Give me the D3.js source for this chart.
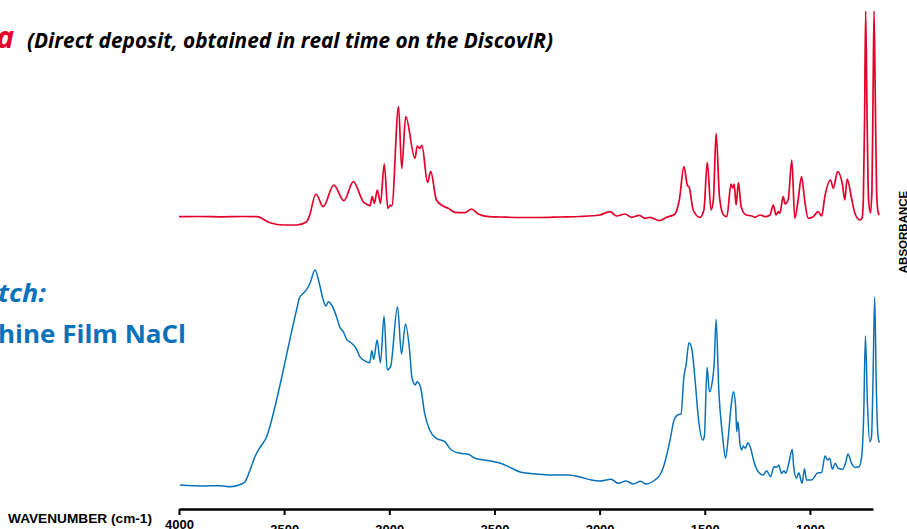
<!DOCTYPE html>
<html>
<head>
<meta charset="utf-8">
<script src="https://cdn.jsdelivr.net/npm/d3@7"></script>
<style>
  html, body { margin: 0; padding: 0; background: #fff; overflow: hidden; }
  svg { display: block; }
</style>
</head>
<body>
<svg id="chart" width="907" height="529"></svg>
<script>
// unknown spectrum (red, top) - wavenumber (cm-1) / absorbance
const unknownWavenumber = [
  4000, 3900, 3800, 3700, 3630, 3567, 3504, 3440, 3393, 3381, 3349, 3314, 3264, 3216, 3171, 3124,
  3100, 3092, 3081, 3071, 3057, 3042, 3024, 3007, 2994, 2988, 2956, 2941, 2922, 2878, 2867, 2855,
  2845, 2818, 2803, 2776, 2744, 2720, 2688, 2641, 2609, 2577, 2525, 2474, 2378, 2283, 2188, 2093,
  2000, 1951, 1919, 1880, 1848, 1811, 1784, 1760, 1716, 1681, 1642, 1621, 1599, 1583, 1574, 1555,
  1523, 1504, 1488, 1470, 1459, 1446, 1430, 1411, 1395, 1375, 1367, 1360, 1351, 1340, 1327, 1303,
  1276, 1261, 1237, 1213, 1190, 1174, 1161, 1150, 1143, 1127, 1118, 1103, 1086, 1072, 1056, 1040,
  1024, 1008, 984, 961, 944, 929, 902, 889, 868, 845, 834, 823, 802, 786, 762, 752,
  746, 740, 735, 728, 721, 712, 705, 700, 695, 689, 683, 676, 670
];
const unknownAbsorbance = [
  0.093, 0.095, 0.092, 0.095, 0.093, 0.033, 0.010, 0.010, 0.043, 0.093, 0.320, 0.193, 0.410, 0.253, 0.443, 0.243,
  0.210, 0.200, 0.293, 0.227, 0.360, 0.227, 0.620, 0.177, 0.210, 0.200, 1.195, 0.575, 1.093, 0.677, 0.800, 0.777,
  0.807, 0.437, 0.547, 0.260, 0.200, 0.177, 0.137, 0.133, 0.170, 0.120, 0.093, 0.090, 0.085, 0.085, 0.090, 0.095,
  0.110, 0.143, 0.100, 0.120, 0.087, 0.107, 0.077, 0.087, 0.053, 0.087, 0.120, 0.260, 0.593, 0.410, 0.387, 0.160,
  0.087, 0.160, 0.637, 0.160, 0.260, 0.927, 0.293, 0.110, 0.093, 0.420, 0.377, 0.420, 0.210, 0.433, 0.193, 0.110,
  0.100, 0.087, 0.110, 0.093, 0.110, 0.210, 0.110, 0.143, 0.127, 0.293, 0.220, 0.267, 0.660, 0.077, 0.260, 0.493,
  0.243, 0.077, 0.093, 0.143, 0.100, 0.293, 0.460, 0.377, 0.543, 0.410, 0.260, 0.470, 0.277, 0.127, 0.060, 0.080,
  0.260, 1.060, 2.150, 1.060, 0.260, 0.130, 0.360, 1.260, 2.150, 1.260, 0.360, 0.140, 0.110
];

// library match spectrum (blue, bottom)
const matchWavenumber = [
  3995, 3884, 3805, 3757, 3702, 3686, 3662, 3639, 3607, 3583, 3568, 3536, 3504, 3480, 3456, 3441,
  3428, 3409, 3393, 3377, 3353, 3333, 3314, 3301, 3290, 3274, 3251, 3235, 3219, 3203, 3179, 3155,
  3140, 3108, 3093, 3083, 3074, 3058, 3042, 3025, 3010, 2994, 2961, 2942, 2923, 2903, 2892, 2876,
  2868, 2852, 2832, 2808, 2776, 2736, 2705, 2664, 2624, 2592, 2525, 2474, 2420, 2378, 2300, 2230,
  2150, 2093, 2040, 2000, 1946, 1911, 1874, 1840, 1805, 1780, 1737, 1713, 1689, 1665, 1646, 1630,
  1613, 1599, 1589, 1575, 1562, 1546, 1531, 1510, 1502, 1489, 1478, 1464, 1455, 1446, 1434, 1415,
  1401, 1388, 1375, 1364, 1353, 1348, 1342, 1332, 1324, 1317, 1307, 1295, 1282, 1266, 1246, 1222,
  1206, 1187, 1171, 1158, 1148, 1135, 1123, 1115, 1099, 1084, 1077, 1064, 1053, 1037, 1026, 1016,
  993, 961, 945, 928, 917, 906, 893, 880, 866, 845, 830, 819, 802, 786, 766, 754,
  744, 736, 726, 715, 707, 700, 692, 684, 676, 669
];
const matchAbsorbance = [
  0.030, 0.020, 0.023, 0.013, 0.040, 0.063, 0.180, 0.313, 0.430, 0.513, 0.613, 0.880, 1.180, 1.413, 1.647, 1.780,
  1.897, 1.947, 1.987, 2.047, 2.180, 2.047, 1.880, 1.820, 1.863, 1.830, 1.713, 1.607, 1.563, 1.487, 1.447, 1.387,
  1.313, 1.263, 1.253, 1.373, 1.287, 1.480, 1.253, 1.720, 1.180, 1.213, 1.813, 1.340, 1.640, 1.363, 1.097, 1.030,
  1.063, 1.013, 0.747, 0.580, 0.497, 0.463, 0.380, 0.347, 0.337, 0.297, 0.273, 0.250, 0.200, 0.160, 0.140, 0.130,
  0.130, 0.110, 0.080, 0.070, 0.087, 0.047, 0.070, 0.040, 0.067, 0.040, 0.080, 0.130, 0.263, 0.480, 0.680, 0.730,
  0.740, 1.113, 1.230, 1.453, 1.397, 1.080, 0.713, 0.480, 0.513, 1.207, 0.963, 1.063, 1.247, 1.687, 1.013, 0.513,
  0.297, 0.513, 0.813, 0.963, 0.813, 0.563, 0.663, 0.430, 0.380, 0.420, 0.397, 0.453, 0.397, 0.263, 0.163, 0.130,
  0.173, 0.113, 0.213, 0.207, 0.230, 0.147, 0.173, 0.147, 0.263, 0.387, 0.213, 0.097, 0.153, 0.047, 0.193, 0.080,
  0.080, 0.153, 0.153, 0.320, 0.280, 0.297, 0.187, 0.247, 0.197, 0.187, 0.253, 0.340, 0.247, 0.207, 0.213, 0.313,
  0.747, 1.520, 0.813, 0.463, 0.513, 1.080, 1.910, 0.980, 0.513, 0.453
];

const tickValues = [4000, 3500, 3000, 2500, 2000, 1500, 1000];

const RED = '#e2002a';
const BLUE = '#0a72ba';
const sans = '"Liberation Sans", Arial, sans-serif';
const humanist = '"Open Sans", "Noto Sans", sans-serif';

const svg = d3.select('#chart');

const x = d3.scaleLinear().domain([4000, 700]).range([179, 873]);
const yUnknown = d3.scaleLinear().domain([0, 2.16]).range([226, 10]);
const yMatch = d3.scaleLinear().domain([0, 2.2]).range([488, 268]);

function drawSpectrum(wn, ab, y, color, width) {
    const pts = wn.map((w, i) => [w, ab[i]]);
    const line = d3.line()
        .x(d => x(d[0]))
        .y(d => y(d[1]))
        .curve(d3.curveMonotoneX);
    svg.append('path')
        .datum(pts)
        .attr('fill', 'none')
        .attr('stroke', color)
        .attr('stroke-width', width)
        .attr('stroke-linejoin', 'round')
        .attr('d', line);
}

drawSpectrum(unknownWavenumber, unknownAbsorbance, yUnknown, RED, 1.7);
drawSpectrum(matchWavenumber, matchAbsorbance, yMatch, BLUE, 1.5);

// bottom axis
const gAxis = svg.append('g')
    .attr('transform', 'translate(0,509)')
    .call(d3.axisBottom(x).tickValues(tickValues).tickSize(6).tickSizeOuter(0).tickFormat(d3.format('d')));
gAxis.select('.domain').attr('stroke', '#000').attr('stroke-width', 2.5);
gAxis.selectAll('.tick line').attr('stroke', '#000').attr('stroke-width', 2).attr('y2', 6);
gAxis.selectAll('.tick text')
    .attr('font-family', sans)
    .attr('font-weight', 'bold')
    .attr('font-size', 13)
    .attr('fill', '#000')
    .attr('y', d => d === 4000 ? 11 : 15.5);

svg.append('text')
    .attr('x', 8).attr('y', 523)
    .attr('font-family', sans).attr('font-weight', 'bold').attr('font-size', 12.5)
    .attr('textLength', 144).attr('lengthAdjust', 'spacingAndGlyphs')
    .text('WAVENUMBER (cm-1)');

svg.append('text')
    .attr('transform', 'translate(907,232) rotate(-90)')
    .attr('text-anchor', 'middle')
    .attr('font-family', sans).attr('font-weight', 'bold').attr('font-size', 11.5)
    .text('ABSORBANCE');

// titles (cut off at the left edge of the picture)
svg.append('text')
    .attr('x', 14).attr('y', 48)
    .attr('text-anchor', 'end')
    .attr('font-family', humanist).attr('font-weight', 'bold').attr('font-style', 'italic')
    .attr('font-size', 30).attr('fill', RED)
    .text('a');

svg.append('text')
    .attr('x', 27).attr('y', 48)
    .attr('font-family', humanist).attr('font-weight', 'bold').attr('font-style', 'italic')
    .attr('font-size', 20.5)
    .attr('textLength', 526).attr('lengthAdjust', 'spacingAndGlyphs')
    .text('(Direct deposit, obtained in real time on the DiscovIR)');

svg.append('text')
    .attr('x', -2).attr('y', 302)
    .attr('font-family', humanist).attr('font-weight', 'bold').attr('font-style', 'italic')
    .attr('font-size', 25).attr('fill', BLUE)
    .attr('textLength', 48).attr('lengthAdjust', 'spacingAndGlyphs')
    .text('tch:');

svg.append('text')
    .attr('x', -2).attr('y', 343)
    .attr('font-family', humanist).attr('font-weight', 'bold')
    .attr('font-size', 25).attr('fill', BLUE)
    .attr('textLength', 188).attr('lengthAdjust', 'spacingAndGlyphs')
    .text('hine Film NaCl');
</script>
</body>
</html>
